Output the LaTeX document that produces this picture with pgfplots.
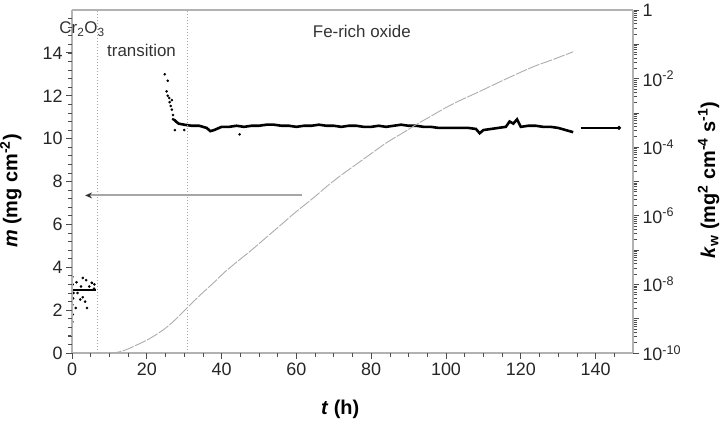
\documentclass[border=0pt]{standalone}
\usepackage{pgfplots}
\pgfplotsset{compat=1.18}
\usepackage{fontspec}
\setmainfont{Liberation Sans}
\usetikzlibrary{arrows.meta}
\begin{document}
\begin{tikzpicture}
\pgfplotsset{
  common/.style={
    scale only axis, width=561bp, height=343bp,
    xmin=0, xmax=150, clip=false,
    tick align=outside,
    axis line style={gray!60, line width=1.2pt},
    major tick length=6bp, minor tick length=4bp,
    tick style={gray!60!black, line width=0.8pt},
    ticklabel style={font=\fontsize{18}{20}\selectfont, text=black!85},
  }
}
% right (log) axis first
\begin{axis}[common,
  ymode=log, ymin=1e-10, ymax=1,
  axis x line=none, axis y line*=right,
  ytick={1e-10,1e-9,1e-8,1e-7,1e-6,1e-5,1e-4,1e-3,1e-2,1e-1,1},
  yticklabels={10\textsuperscript{-10},,10\textsuperscript{-8},,10\textsuperscript{-6},,10\textsuperscript{-4},,10\textsuperscript{-2},,1},
  yminorticks=true,
  ylabel={\textbf{\textit{k}\textsubscript{w} (mg\textsuperscript{2} cm\textsuperscript{-4} s\textsuperscript{-1})}},
  ylabel style={font=\fontsize{20}{22}\selectfont, at={(axis description cs:1.135,0.504)}, anchor=center},
]
% Cr2O3 stage scatter
\addplot[only marks, mark=*, mark size=1.1pt, black] coordinates {
(0.1,1.66e-8) (1.2,1.15e-8) (2.9,1.54e-8) (5.3,1.11e-8) (0.2,1.0e-8) (3.8,1.33e-8)
(0.3,3.92e-9) (2.9,4.22e-9) (3.5,3.16e-9) (0.1,2.55e-9) (4.0,2.05e-9) (0.2,1.33e-9)
(0.1,8.06e-10) (5.3,1.11e-8) (2.2,3.65e-9) (1.5,5.62e-9) (4.6,8.66e-9) (5.9,7.5e-9)
(0.4,5.62e-9) (2.4,8.66e-9) (6.0,1.0e-8) (1.0,2.05e-9)
};
\addplot[black, line width=1.6pt] coordinates {(0,6.98e-9) (6.3,6.98e-9)};
% transition stage scatter
\addplot[only marks, mark=*, mark size=1.1pt, black] coordinates {
(24.8,1.33e-2) (25.6,8.66e-3) (25.3,4.22e-3) (25.6,3.16e-3) (26.7,2.37e-3) (26.1,2.05e-3)
(26.7,1.24e-3) (27.0,8.66e-4) (27.0,6.49e-4) (27.5,3.16e-4) (30.0,3.16e-4) (44.8,2.37e-4)
(26.0,2.7e-3) (26.4,1.6e-3)
};
% Fe-rich oxide plateau
\addplot[black, line width=2.6pt] coordinates {
(27.2,6.49e-4) (27.8,5.62e-4) (28.5,4.87e-4) (30,4.53e-4) (32,4.22e-4) (34,4.22e-4)
(36,3.65e-4) (37,2.94e-4) (38,3.16e-4) (40,3.92e-4) (42,3.92e-4) (44,4.22e-4)
(46,3.92e-4) (48,4.22e-4) (50,4.22e-4) (52,4.53e-4) (54,4.53e-4) (56,4.22e-4)
(58,4.22e-4) (60,3.92e-4) (62,4.22e-4) (64,4.22e-4) (66,4.53e-4) (68,4.22e-4)
(70,4.22e-4) (72,3.92e-4) (74,4.22e-4) (76,4.22e-4) (78,3.92e-4) (80,3.92e-4)
(82,4.22e-4) (84,3.92e-4) (86,4.22e-4) (88,4.53e-4) (90,4.22e-4) (92,4.22e-4)
(94,3.92e-4) (96,3.92e-4) (98,3.65e-4) (100,3.65e-4) (102,3.65e-4) (104,3.65e-4)
(106,3.65e-4) (108,3.40e-4) (109,2.55e-4) (110,3.16e-4) (112,3.40e-4) (114,3.65e-4)
(116,3.92e-4) (117,5.62e-4) (118,4.87e-4) (119,6.49e-4) (120,3.92e-4) (122,4.22e-4)
(124,4.22e-4) (126,3.92e-4) (128,3.92e-4) (130,3.65e-4) (132,3.16e-4) (134,2.74e-4)
};
\end{axis}
% left (linear) axis last
\begin{axis}[common,
  ymin=0, ymax=16,
  axis x line*=bottom, axis y line*=left,
  xtick={0,20,40,60,80,100,120,140}, ytick={0,2,4,6,8,10,12,14},
  xticklabels={0,20,40,60,80,100,120,140}, yticklabels={0,2,4,6,8,10,12,14},
  minor x tick num=3, minor y tick num=4,
  xlabel={\textbf{\textit{t} (h)}},
  xlabel style={font=\fontsize{20}{22}\selectfont, at={(axis description cs:0.478,-0.163)}, anchor=center},
  ylabel={\textbf{\textit{m} (mg cm\textsuperscript{-2})}},
  ylabel style={font=\fontsize{20}{22}\selectfont, at={(axis description cs:-0.109,0.472)}, anchor=center},
]
% top border
\draw[gray!60, line width=1.2pt] (axis cs:0,16) -- (axis cs:150,16);
% tick marks of the bottom and left axes
\pgfplotsinvokeforeach{0,5,...,145}{\draw[gray!60!black, line width=0.7pt] (axis cs:#1,0) -- ([yshift=-4bp]axis cs:#1,0);}
\pgfplotsinvokeforeach{0,20,...,140}{\draw[gray!60!black, line width=0.9pt] (axis cs:#1,0) -- ([yshift=-6bp]axis cs:#1,0);}
\pgfplotsinvokeforeach{0,0.4,...,15.7}{\draw[gray!60!black, line width=0.7pt] (axis cs:0,#1) -- ([xshift=-4bp]axis cs:0,#1);}
\pgfplotsinvokeforeach{0,2,...,14}{\draw[gray!60!black, line width=0.9pt] (axis cs:0,#1) -- ([xshift=-6bp]axis cs:0,#1);}
% vertical phase boundaries
\addplot[gray!70, dotted, line width=1pt] coordinates {(6.7,0) (6.7,16)};
\addplot[gray!70, dotted, line width=1pt] coordinates {(31,0) (31,16)};
% mass gain curve
\addplot[gray!65, line width=0.9pt, smooth, dash pattern=on 12pt off 1.5pt] coordinates {
(10,0) (12,0.03) (14,0.12) (16,0.27) (18,0.43) (20,0.6) (22,0.8) (24,1.03)
(26,1.3) (28,1.62) (30,1.97) (32,2.32) (35,2.82) (38,3.3) (41,3.8) (44.8,4.35)
(48,4.8) (52,5.4) (56,6.0) (60,6.6) (64.3,7.2) (68,7.75) (72,8.3) (76,8.8)
(80,9.3) (84,9.8) (88,10.22) (92,10.65) (96,11.05) (100,11.45) (104,11.8)
(108,12.12) (112,12.45) (116,12.78) (120,13.1) (124,13.4) (128,13.65) (131,13.85) (134,14.05)
};
% arrows
\draw[gray!70, line width=2pt, {Stealth[length=7pt,width=6pt,gray!40!black]}-] (axis cs:3.5,7.35) -- (axis cs:61.6,7.35);
\draw[black, line width=1.2pt, -{Circle[length=4pt]}] (axis cs:136,10.5) -- (axis cs:146.8,10.5);
% annotations
\node[font=\fontsize{17}{19}\selectfont, text=black!80] at (axis cs:2.7,15.1) {Cr\textsubscript{2}O\textsubscript{3}};
\node[font=\fontsize{17}{19}\selectfont, text=black!80] at (axis cs:18.6,14.1) {transition};
\node[font=\fontsize{17}{19}\selectfont, text=black!80] at (axis cs:77.5,15.0) {Fe-rich oxide};
\end{axis}
\pgfresetboundingbox
\path[use as bounding box] (-72bp,-69bp) rectangle (652bp,353bp);
\end{tikzpicture}
\end{document}
